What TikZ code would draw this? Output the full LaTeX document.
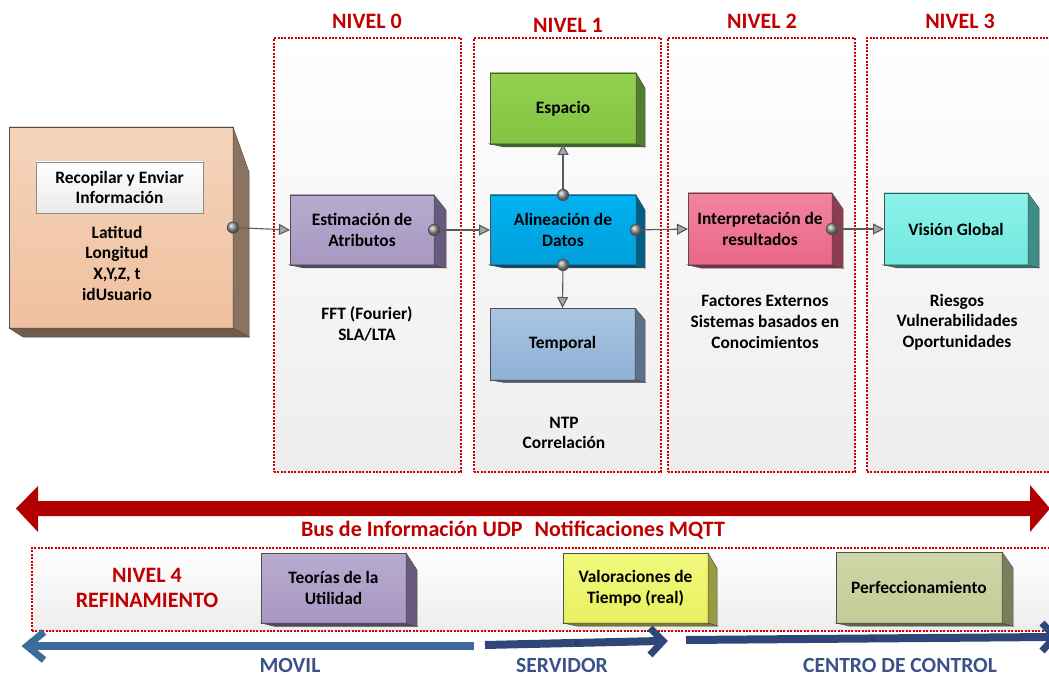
\documentclass[tikz,border=0pt]{standalone}
\usepackage{fontspec}
\setmainfont{Carlito}
\usetikzlibrary{arrows.meta,shadings}

\definecolor{headred}{HTML}{C00000}
\definecolor{busred}{HTML}{B20000}
\definecolor{framered}{HTML}{D00000}
\definecolor{edgegray}{HTML}{505050}
\definecolor{connline}{HTML}{5A5A5A}
\definecolor{tipfill}{HTML}{A6A6A6}
\definecolor{movilblue}{HTML}{3D6C9B}
\definecolor{navyarrow}{HTML}{2F4679}
\definecolor{zonetext}{HTML}{3A5287}
% face colours: top, bottom, side
\definecolor{peachtop}{HTML}{F5D4BC}
\definecolor{peachbot}{HTML}{EFC09E}
\definecolor{peachside}{HTML}{8C735F}
\definecolor{lilactop}{HTML}{B8ABCF}
\definecolor{lilacbot}{HTML}{A797C2}
\definecolor{lilacside}{HTML}{685A7A}
\definecolor{cyantop}{HTML}{00B2F0}
\definecolor{cyanbot}{HTML}{009FDB}
\definecolor{cyanside}{HTML}{005F86}
\definecolor{greentop}{HTML}{94D152}
\definecolor{greenbot}{HTML}{82C340}
\definecolor{greenside}{HTML}{507E2C}
\definecolor{skytop}{HTML}{A9C5E1}
\definecolor{skybot}{HTML}{8EB1D5}
\definecolor{skyside}{HTML}{5D7089}
\definecolor{pinktop}{HTML}{F284A0}
\definecolor{pinkbot}{HTML}{EA6686}
\definecolor{pinkside}{HTML}{8E3D50}
\definecolor{aquatop}{HTML}{8CF2EA}
\definecolor{aquabot}{HTML}{72E8DE}
\definecolor{aquaside}{HTML}{3F8D87}
\definecolor{lemontop}{HTML}{F2F87C}
\definecolor{lemonbot}{HTML}{E8F060}
\definecolor{lemonside}{HTML}{9A9A3E}
\definecolor{olivetop}{HTML}{CFD6A8}
\definecolor{olivebot}{HTML}{C3CB97}
\definecolor{oliveside}{HTML}{7B7E5C}

\tikzset{
  bodytext/.style={align=center, inner sep=0pt, font=\fontsize{17.4}{20.7}\selectfont\bfseries},
  heading/.style={align=center, inner sep=0pt, text=headred, font=\fontsize{22}{25}\selectfont\bfseries},
  zonelabel/.style={inner sep=0pt, text=zonetext, font=\fontsize{21.6}{25}\selectfont\bfseries},
  tinylabel/.style={inner sep=0pt, text=black!85, font=\fontsize{7}{8}\selectfont},
  boxface/.style={bodytext, draw=edgegray, line width=0.6pt, outer sep=0pt},
  labelbox/.style={bodytext, draw=black!45, line width=0.8pt, top color=white, bottom color=black!8, outer sep=0pt},
  frame/.style={draw=framered, line width=1.5pt, dash pattern=on 2pt off 1.4pt,
    top color=white, bottom color=black!7, inner sep=0pt, outer sep=0pt},
  conn/.style={draw=connline, line width=1.1pt, -{Triangle[length=11pt,width=11pt,fill=tipfill]}},
  portdot/.style={circle, draw=black!70, line width=0.6pt, ball color=black!40, minimum size=11.5pt, inner sep=0pt},
  zoneshaft/.style={line width=8pt, line cap=butt},
  zonehead/.style={line width=7pt, line cap=butt, line join=miter},
}

% solid box: name, left, top, right, bottom, depth, drop, colour prefix, text
\newcommand{\solidbox}[9]{%
  \node[boxface, top color=#8top, bottom color=#8bot,
        minimum width={(#4)-(#2)}, minimum height={(#5)-(#3)}]
        (#1) at ({((#2)+(#4))/2},{((#3)+(#5))/2}) {#9};
  \filldraw[fill=#8side, draw=edgegray, line width=0.5pt]
    (#1.north east) -- ++(#6,#7) -- ([shift={(#6,{(#7)/5})}]#1.south east)
    -- (#1.south east) -- cycle;
  \filldraw[fill=#8side!80!black, draw=edgegray, line width=0.5pt]
    (#1.south west) -- (#1.south east) -- ([shift={(#6,{(#7)/5})}]#1.south east)
    -- ([shift={(14,{(#7)/5})}]#1.south west) -- cycle;
}

\begin{document}
\begin{tikzpicture}[x=1pt,y=-1pt]
\useasboundingbox (0,0) rectangle (1049,676);
\clip (0,0) rectangle (1049,676);

% level frames
\node[frame, minimum width=187, minimum height=434] (lvl0) at (367.5,255) {};
\node[frame, minimum width=187, minimum height=434] (lvl1) at (567.5,255) {};
\node[frame, minimum width=187, minimum height=434] (lvl2) at (761.5,255) {};
\node[frame, minimum width=195, minimum height=434] (lvl3) at (964.5,255) {};
\node[frame, minimum width=1030, minimum height=83] (lvl4) at (547,589.5) {};

\node[heading] (h0) at (367,21) {NIVEL 0};
\node[heading] (h1) at (568,25) {NIVEL 1};
\node[heading] (h2) at (762,21) {NIVEL 2};
\node[heading] (h3) at (960,21) {NIVEL 3};
\node[heading] (h4) at (147,588) {NIVEL 4\\REFINAMIENTO};

% information bus
\fill[busred] (16,508.5) -- (38,486) -- (38,501) -- (1030,501) -- (1030,485)
  -- (1050,508.5) -- (1030,532) -- (1030,516) -- (38,516) -- (38,532) -- cycle;
\node[heading] (bus) at (513,530) {Bus de Información UDP\hspace{12pt}Notificaciones MQTT};

% data source
\solidbox{src}{9}{127}{233}{328}{16}{45}{peach}{}
\node[labelbox, minimum width=167, minimum height=51] (collect) at (119.5,187.5) {Recopilar y Enviar\\Información};
\node[bodytext] (srcdata) at (117,263) {Latitud\\Longitud\\X,Y,Z, t\\idUsuario};

% processing chain
\solidbox{estim}{290}{195}{434}{265}{12}{15}{lilac}{Estimación de\\Atributos}
\solidbox{alin}{490}{195}{636}{265}{9}{15}{cyan}{Alineación de\\Datos}
\solidbox{espacio}{490}{73}{636}{144}{9}{15}{green}{Espacio}
\solidbox{temporal}{490}{308}{635}{380}{10}{12}{sky}{Temporal}
\solidbox{interp}{688}{193}{832}{265}{11}{16}{pink}{Interpretación de\\resultados}
\solidbox{vision}{884}{193}{1028}{265}{11}{15}{aqua}{Visión Global}

\node[bodytext] (fft) at (367,324) {FFT (Fourier)\\SLA/LTA};
\node[bodytext] (ntp) at (564,433) {NTP\\Correlación};
\node[bodytext] (factores) at (765,322) {Factores Externos\\Sistemas basados en\\Conocimientos};
\node[bodytext] (riesgos) at (957,322) {Riesgos\\Vulnerabilidades\\Oportunidades};

% connectors
\draw[conn] (src.east) -- (estim.west);
\draw[conn] (estim.east) -- (alin.west);
\draw[conn] (alin.north) -- (espacio.south);
\draw[conn] (alin.south) -- (temporal.north);
\draw[conn] (alin.east) -- (interp.west);
\draw[conn] (interp.east) -- (vision.west);
\node[portdot] (p1) at (src.east) {};
\node[portdot] (p2) at (estim.east) {};
\node[portdot] (p3) at (alin.north) {};
\node[portdot] (p4) at (alin.south) {};
\node[portdot] (p5) at (alin.east) {};
\node[portdot] (p6) at (interp.east) {};

% refinement level
\solidbox{teorias}{261}{553}{406}{623}{11}{17}{lilac}{Teorías de la\\Utilidad}
\solidbox{valor}{563}{553}{708}{623}{9}{15}{lemon}{Valoraciones de\\Tiempo (real)}
\solidbox{perf}{836}{552}{1002}{623}{11}{16}{olive}{Perfeccionamiento}

% deployment zones
\coordinate (movilA) at (474,646);
\coordinate (movilB) at (30,646);
\draw[zoneshaft, movilblue] (movilA) -- (movilB);
\draw[zonehead, movilblue] (44,632) -- (27,646) -- (44,660);

\coordinate (servA) at (485,645);
\coordinate (servB) at (660,641);
\draw[zoneshaft, navyarrow] (servA) -- (servB);
\draw[zonehead, navyarrow] (650,628) -- (663,641) -- (650,655);
\node[tinylabel] (zero1) at (577,643) {0};

\coordinate (ctrlA) at (686,640);
\coordinate (ctrlB) at (1050,637);
\draw[zoneshaft, navyarrow] (ctrlA) -- (ctrlB);
\draw[zonehead, navyarrow] (1042,623) -- (1055,637) -- (1042,651);
\node[tinylabel] (zero2) at (873,639) {0};

\node[zonelabel] (movil) at (290,665.5) {MOVIL};
\node[zonelabel] (servidor) at (562,665) {SERVIDOR};
\node[zonelabel] (centro) at (900,665) {CENTRO DE CONTROL};
\end{tikzpicture}
\end{document}
